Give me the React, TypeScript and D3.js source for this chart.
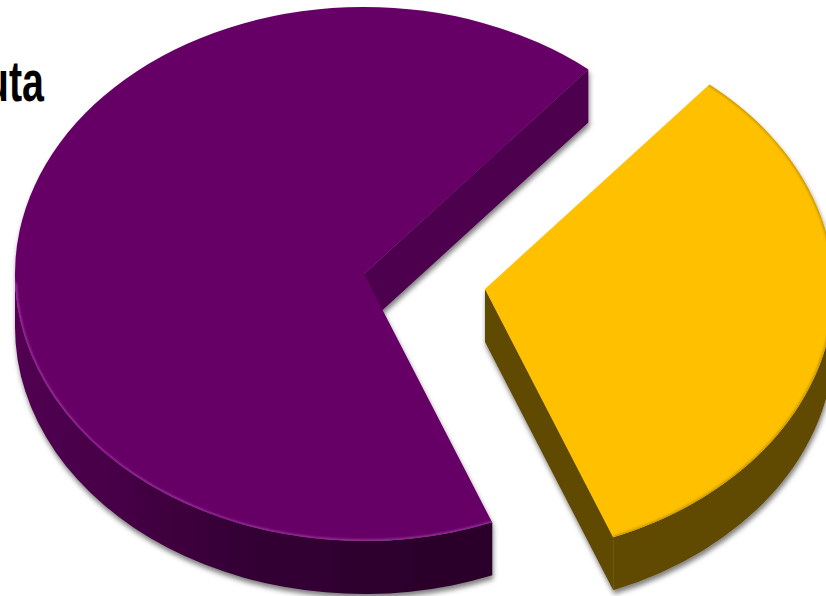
import { useMemo } from 'react';

import { arc, pie } from 'd3';

type Slice = {
  name: string;
  value: number;
};

const names = ['Yellow', 'Purple'];
const values = [32.9, 67.1];
const topColors = ['#ffc000', '#660066'];
const cutColors = ['#614900', '#4d004d'];
const edgeColors = ['#c99700', '#a030a0'];
const labelText = 'uta';

const width = 826,
  height = 596,
  rx = 349,
  ry = 267,
  depth = 53,
  startAngle = (40 * Math.PI) / 180;

const centers = [
  { x: 485, y: 289 },
  { x: 364, y: 274 },
];

const slices: Slice[] = names.map((name, i) => ({ name, value: values[i] }));

// d3 angles start at 12 o'clock and go clockwise
const px = (a: number) => rx * Math.sin(a);
const py = (a: number) => -ry * Math.cos(a);

function edgePath(a0: number, a1: number) {
  return `M${px(a0)},${py(a0)}A${rx},${ry} 0 0 1 ${px(a1)},${py(a1)}`;
}

function rimPath(a0: number, a1: number) {
  // lower rim of the slice, only the part that faces the viewer
  const from = Math.max(a0, Math.PI / 2);
  const to = Math.min(a1, (3 * Math.PI) / 2);
  if (to <= from) return '';
  return [
    edgePath(from, to),
    `L${px(to)},${py(to) + depth}`,
    `A${rx},${ry} 0 0 0 ${px(from)},${py(from) + depth}`,
    'Z',
  ].join('');
}

function cutPath(a: number) {
  return `M0,0L${px(a)},${py(a)}L${px(a)},${py(a) + depth}L0,${depth}Z`;
}

export default function App() {
  const arcs = useMemo(
    () =>
      pie<Slice>()
        .value((d) => d.value)
        .sort(null)
        .startAngle(startAngle)
        .endAngle(startAngle + 2 * Math.PI)(slices),
    []
  );

  const sector = useMemo(() => arc().innerRadius(0).outerRadius(1), []);

  return (
    <svg
      width={width}
      height={height}
      style={{ position: 'fixed', left: 0, top: 0, background: '#fff' }}
    >
      <defs>
        <linearGradient id="rim-1" gradientUnits="userSpaceOnUse" x1={-rx} x2={127} y1={0} y2={0}>
          <stop offset="0" stopColor="#520052" />
          <stop offset="0.2" stopColor="#470047" />
          <stop offset="0.5" stopColor="#330033" />
          <stop offset="1" stopColor="#290029" />
        </linearGradient>
        <linearGradient id="rim-0">
          <stop offset="0" stopColor="#614900" />
          <stop offset="1" stopColor="#614900" />
        </linearGradient>
        <filter id="shadow" x="-10%" y="-10%" width="120%" height="120%">
          <feDropShadow dx="1" dy="4" stdDeviation="2.5" floodColor="#000" floodOpacity="0.5" />
        </filter>
        <filter id="soft">
          <feGaussianBlur stdDeviation="0.8" />
        </filter>
      </defs>

      <g transform="translate(44,101) scale(0.68,1)">
        <text
          textAnchor="end"
          fontFamily="'Liberation Sans', Arial, sans-serif"
          fontWeight="bold"
          fontSize={58}
          fill="#000"
        >
          {labelText}
        </text>
      </g>

      {arcs.map((d, i) => {
        const c = centers[i];
        const top = sector(d as never) as string;
        // yellow has a dark edge on its whole rim, purple a light one along the front
        const edgeFrom = d.startAngle;
        const edgeTo = i === 0 ? d.endAngle : (268 * Math.PI) / 180;
        return (
          <g key={d.data.name} transform={`translate(${c.x},${c.y})`}>
            <clipPath id={`top-${i}`}>
              <path d={top} transform={`scale(${rx},${ry})`} />
            </clipPath>
            <g filter="url(#shadow)">
              <path d={cutPath(d.endAngle)} fill={cutColors[i]} />
              <path d={rimPath(d.startAngle, d.endAngle)} fill={`url(#rim-${i})`} />
              <path d={top} transform={`scale(${rx},${ry})`} fill={topColors[i]} />
            </g>
            <g clipPath={`url(#top-${i})`}>
              <path
                d={edgePath(edgeFrom, edgeTo)}
                fill="none"
                stroke={edgeColors[i]}
                strokeWidth={3}
                filter="url(#soft)"
              />
            </g>
          </g>
        );
      })}
    </svg>
  );
}
